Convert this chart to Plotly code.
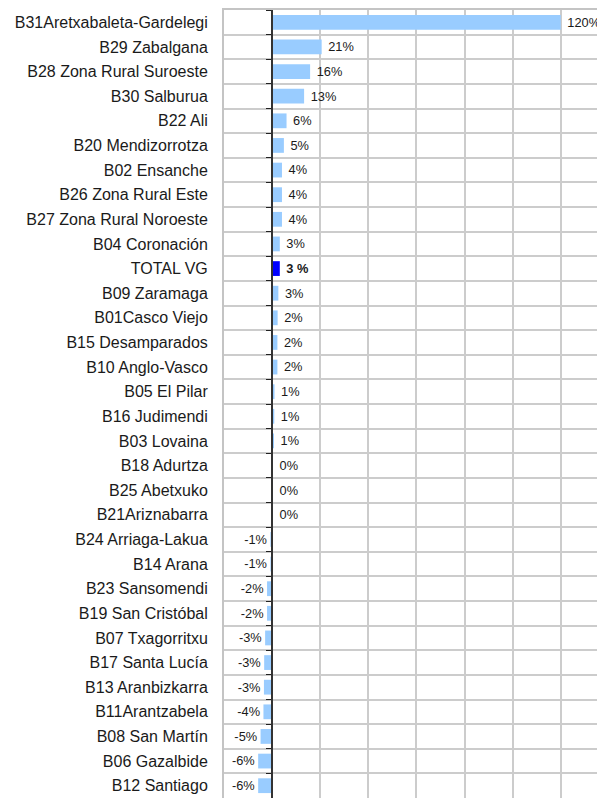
import plotly.graph_objects as go

categories = [
    "B31Aretxabaleta-Gardelegi", "B29 Zabalgana", "B28 Zona Rural Suroeste", "B30 Salburua",
    "B22 Ali", "B20 Mendizorrotza", "B02 Ensanche", "B26 Zona Rural Este",
    "B27 Zona Rural Noroeste", "B04 Coronación", "TOTAL VG", "B09 Zaramaga",
    "B01Casco Viejo", "B15 Desamparados", "B10 Anglo-Vasco", "B05 El Pilar",
    "B16 Judimendi", "B03 Lovaina", "B18 Adurtza", "B25 Abetxuko",
    "B21Ariznabarra", "B24 Arriaga-Lakua", "B14 Arana", "B23 Sansomendi",
    "B19 San Cristóbal", "B07 Txagorritxu", "B17 Santa Lucía", "B13 Aranbizkarra",
    "B11Arantzabela", "B08 San Martín", "B06 Gazalbide", "B12 Santiago",
]
values = [
    120.0, 20.6, 15.8, 13.3,
    6.0, 4.9, 4.1, 4.1,
    4.1, 3.2, 3.2, 2.6,
    2.3, 2.2, 2.2, 1.0,
    0.9, 0.55, 0.3, 0.2,
    0.1, -0.7, -0.7, -2.1,
    -2.1, -2.9, -3.3, -3.4,
    -3.6, -4.8, -5.8, -5.8,
]
total_name = "TOTAL VG"
x_range = [-20, 138.4]

light = "#99ccff"
dark = "#0000ff"
colors = [dark if c == total_name else light for c in categories]


def label(c, v):
    s = f"{v:.0f}%"
    if c == total_name:
        s = f"<b>{v:.0f} %</b>"
    if v >= 0:
        s = "\u00a0" + s
    return s


texts = [label(c, v) for c, v in zip(categories, values)]

fig = go.Figure()
fig.add_trace(go.Bar(
    y=categories, x=values, orientation="h",
    marker=dict(color=colors, line=dict(width=0)),
    text=texts, textposition="outside", cliponaxis=False,
    textfont=dict(size=13, color="#1a1a1a", family="Liberation Sans, Arial"),
    hoverinfo="skip",
))
# invisible trace to carry the category axis that sits at zero
fig.add_trace(go.Scatter(
    y=categories, x=[0] * len(categories), yaxis="y2", mode="markers",
    marker=dict(opacity=0), hoverinfo="skip", showlegend=False,
))

zero_pos = (0 - x_range[0]) / (x_range[1] - x_range[0])
n = len(categories)

fig.update_layout(
    width=597, height=790,
    margin=dict(l=216, r=0, t=0, b=0),
    paper_bgcolor="white", plot_bgcolor="white",
    showlegend=False,
    bargap=0.4,
    font=dict(family="Liberation Sans, Arial", color="#1a1a1a"),
    xaxis=dict(
        range=x_range, tick0=0, dtick=20, showticklabels=False,
        showgrid=True, gridcolor="#cccccc", gridwidth=1.5,
        zeroline=False, showline=True, mirror=True,
        linecolor="#c4c4c4", linewidth=2, ticks="",
    ),
    yaxis=dict(
        type="category", categoryarray=categories,
        range=[n - 0.5, -0.5],
        tickson="boundaries", ticks="", showgrid=True,
        gridcolor="#cccccc", gridwidth=1.5,
        showline=True, linecolor="#c4c4c4", linewidth=2,
        tickfont=dict(size=16, color="#1a1a1a"),
        ticklabelstandoff=11,
    ),
    yaxis2=dict(
        type="category", categoryarray=categories,
        range=[n - 0.5, -0.5], overlaying="y", anchor="free",
        position=zero_pos, side="left",
        tickson="boundaries", ticks="outside", ticklen=5,
        tickcolor="#222222", tickwidth=1,
        showticklabels=False, showgrid=False,
        showline=True, linecolor="#333333", linewidth=1.5,
    ),
)

fig.write_html("out.html")
